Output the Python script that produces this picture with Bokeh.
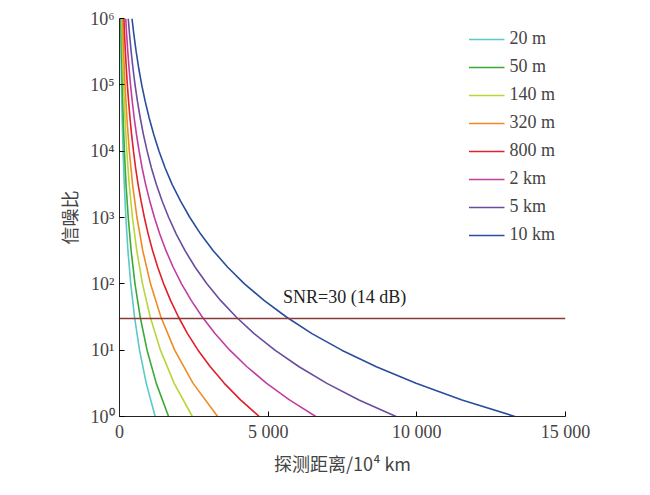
from bokeh.plotting import figure
from bokeh.models import Legend, LegendItem, FixedTicker, Label
from bokeh.embed import file_html
from bokeh.resources import INLINE

snr = [1, 3.16, 10, 31.6, 100, 316, 1000, 3160, 1e4, 3.16e4, 1e5, 3.16e5, 1e6]
snr_fine = [1, 1.778, 3.162, 5.623, 10, 17.78, 31.62, 56.23, 100, 177.8, 316.2, 562.3, 1000,
            1778, 3162, 5623, 1e4, 17783, 31623, 56234, 1e5, 177828, 316228, 562341, 1e6]
names = ["20 m", "50 m", "140 m", "320 m", "800 m", "2 km", "5 km", "10 km"]
colors = ["#5cc8c8", "#3aaa35", "#b8d63a", "#f08a24", "#e0202a", "#c03ea0", "#6a4ca0", "#2a4d9c"]
ranges = [
    [1200, 900, 674, 506, 379, 284, 214, 160, 120, 90, 67, 51, 38],
    [1650, 1238, 927, 696, 521, 391, 294, 219, 165, 124, 93, 70, 52],
    [2450, 1838, 1377, 1034, 774, 581, 436, 326, 245, 184, 138, 103, 77],
    [3300, 2475, 1855, 1393, 1043, 782, 587, 439, 330, 248, 185, 139, 104],
    [4700, 4070, 3525, 3053, 2641, 2287, 1983, 1717, 1485, 1286, 1114, 965, 837, 725, 625, 541,
     470, 407, 353, 306, 264, 229, 198, 171, 149],
    [6600, 5716, 4950, 4287, 3709, 3212, 2785, 2412, 2086, 1806, 1564, 1354, 1175, 1018, 878, 760,
     660, 572, 495, 429, 371, 321, 279, 242, 209],
    [9300, 8054, 6975, 6040, 5227, 4527, 3925, 3399, 2939, 2545, 2204, 1909, 1655, 1433, 1237, 1071,
     930, 805, 698, 604, 523, 453, 392, 340, 294],
    [13300, 11518, 9975, 8638, 7475, 6473, 5613, 4861, 4203, 3640, 3152, 2730, 2367, 2050, 1769, 1532,
     1330, 1152, 998, 864, 747, 647, 561, 486, 420],
]
thr_x = [0, 15000]
thr_y = [30, 30]
xticks = [0, 5000, 10000, 15000]
xlabels = ["0", "5 000", "10 000", "15 000"]
yticks = [1, 10, 100, 1000, 1e4, 1e5, 1e6]
ylabels = ["10⁰", "10¹", "10²", "10³", "10⁴", "10⁵", "10⁶"]

serif = "Liberation Serif"
p = figure(width=636, height=478, x_range=(0, 15000), y_range=(1, 1e6), y_axis_type="log",
           output_backend="svg", toolbar_location=None,
           min_border_left=119, min_border_right=71, min_border_top=18, min_border_bottom=51)
p.outline_line_color = None
p.grid.visible = False

items = []
for n, c, r in zip(names, colors, ranges):
    ys = snr if len(r) == len(snr) else snr_fine
    gl = p.line(r, ys, line_color=c, line_width=1.6)
    items.append(LegendItem(label=n, renderers=[gl]))
p.line(thr_x, thr_y, line_color="#8b3a3a", line_width=1.3)
p.add_layout(Label(x=5500, y=45, text="SNR=30 (14 dB)", text_font=serif, text_font_size="18px",
                   text_color="#222222"))

leg = Legend(items=items, location="top_right", border_line_color=None, background_fill_alpha=0,
             label_text_font=serif, label_text_font_size="18px", glyph_width=36, spacing=7,
             label_height=20, margin=10)
p.add_layout(leg)

for ax in (p.xaxis, p.yaxis):
    ax.axis_line_color = "#222222"
    ax.major_tick_in = 5
    ax.major_tick_out = 0
    ax.minor_tick_line_color = None
    ax.major_label_text_font = serif
    ax.major_label_text_font_size = "18px"
    ax.axis_label_text_font = "Noto Sans CJK SC"
    ax.axis_label_text_font_size = "18px"
    ax.axis_label_text_font_style = "normal"
p.xaxis.ticker = FixedTicker(ticks=xticks)
p.xaxis.major_label_overrides = dict(zip(xticks, xlabels))
p.yaxis.ticker = FixedTicker(ticks=yticks)
p.yaxis.major_label_overrides = dict(zip(yticks, ylabels))
p.xaxis.axis_label = "探测距离/10⁴ km"
p.yaxis.axis_label = "信噪比"

open("out.html", "w").write(file_html(p, INLINE))
